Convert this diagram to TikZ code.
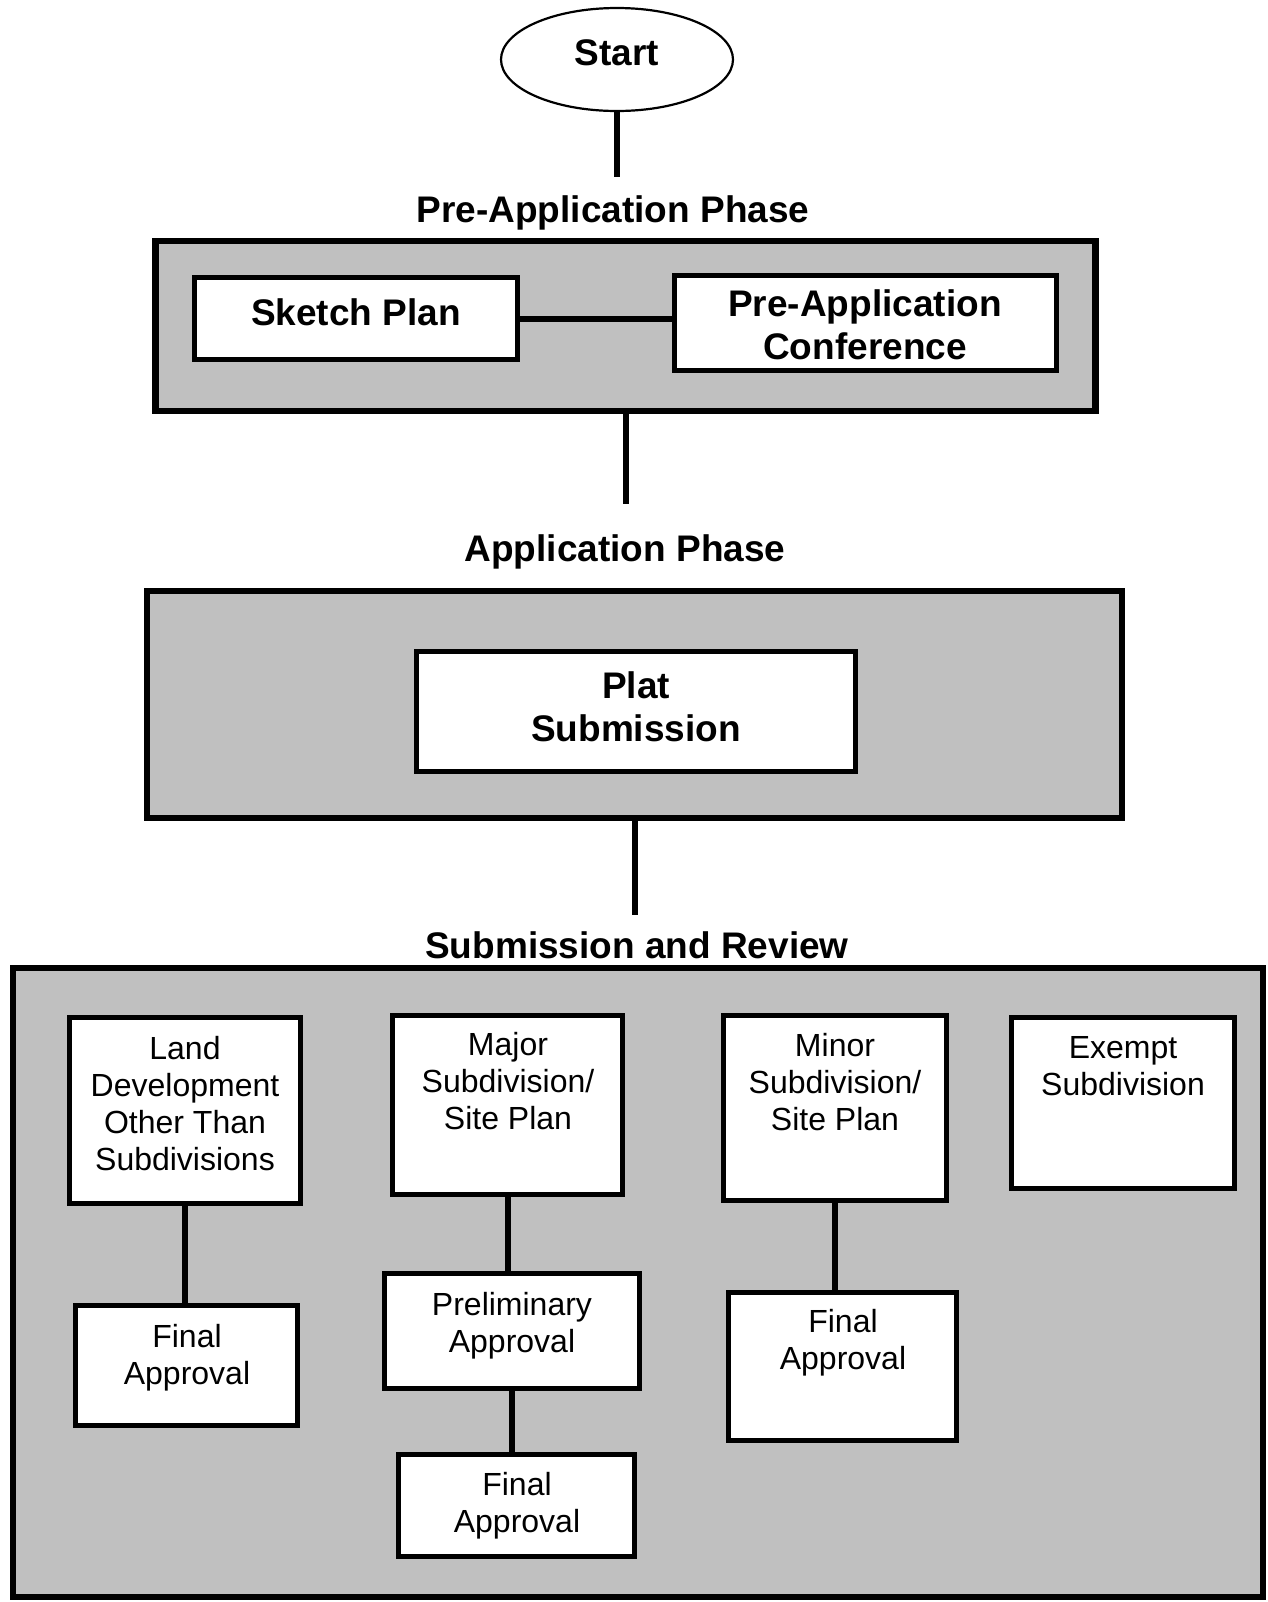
\documentclass[tikz,border=0pt]{standalone}
\usepackage{fontspec}
\setmainfont{Liberation Sans}
\usetikzlibrary{shapes.geometric}
\definecolor{panelgray}{HTML}{C0C0C0}
\tikzset{
  phasebox/.style={draw, line width=3.2pt, fill=panelgray, inner sep=0pt},
  stepbox/.style={draw, line width=2.8pt, fill=white, inner sep=0pt},
  startnode/.style={draw, ellipse, line width=1.1pt, inner sep=0pt},
  link/.style={line width=3pt},
  bigtext/.style={font=\fontsize{18.5}{21.5}\selectfont\bfseries, align=center, inner sep=0pt},
  smalltext/.style={font=\fontsize{16}{18.5}\selectfont, align=center, inner sep=0pt},
}

\begin{document}
\begin{tikzpicture}[x=0.5pt, y=-0.5pt]
  \useasboundingbox (0,0) rectangle (1268,1602);

  % start
  \node[startnode, minimum width=116pt, minimum height=51.5pt] (start) at (617,59.5) {};
  \node[bigtext] (startT) at (617,53) {Start};
  \coordinate (preTop) at (615,177);
  \draw[link] (start.south) -- (start.south |- preTop);

  % pre-application phase
  \node[bigtext] (preT) at (613,213) {Pre-Application Phase};
  \node[phasebox, minimum width=470pt, minimum height=85pt] (preBox) at (625.5,326) {};
  \node[stepbox, minimum width=161.5pt, minimum height=41pt] (sketch) at (356,318.5) {};
  \node[stepbox, minimum width=191pt, minimum height=47.5pt] (conf) at (865.5,323) {};
  \node[bigtext] (sketchT) at (356,312) {Sketch Plan};
  \node[bigtext] (confT) at (865,324.5) {Pre-Application\\Conference};
  \draw[link] (sketch.east) -- (sketch.east -| conf.west);
  \coordinate (appTop) at (625.5,504);
  \draw[link] (preBox.south) -- (preBox.south |- appTop);

  % application phase
  \node[bigtext] (appT) at (625,552) {Application Phase};
  \node[phasebox, minimum width=487.5pt, minimum height=113.5pt] (appBox) at (634.5,704.5) {};
  \node[stepbox, minimum width=219.5pt, minimum height=60pt] (plat) at (636,711.5) {};
  \node[bigtext] (platT) at (636,706.5) {Plat\\Submission};
  \coordinate (reviewTop) at (634.5,915);
  \draw[link] (appBox.south) -- (appBox.south |- reviewTop);

  % submission and review
  \node[bigtext] (reviewT) at (637,945) {Submission and Review};
  \node[phasebox, minimum width=625pt, minimum height=314.5pt] (review) at (638,1282.5) {};

  \node[stepbox, minimum width=115.5pt, minimum height=93pt] (land) at (185,1110.5) {};
  \node[stepbox, minimum width=111pt, minimum height=60pt] (finL) at (186.5,1365.5) {};
  \node[stepbox, minimum width=115pt, minimum height=89.5pt] (major) at (507.5,1105) {};
  \node[stepbox, minimum width=127.5pt, minimum height=57.5pt] (prelim) at (512,1331) {};
  \node[stepbox, minimum width=118pt, minimum height=51pt] (finM) at (516.5,1505.5) {};
  \node[stepbox, minimum width=111.5pt, minimum height=92.5pt] (minor) at (835,1108) {};
  \node[stepbox, minimum width=114pt, minimum height=74pt] (finR) at (842.5,1366.5) {};
  \node[stepbox, minimum width=111.5pt, minimum height=85.5pt] (exempt) at (1123,1103) {};

  \draw[link] (land.south) -- (land.south |- finL.north);
  \draw[link] (major.south) -- (major.south |- prelim.north);
  \draw[link] (prelim.south) -- (prelim.south |- finM.north);
  \draw[link] (minor.south) -- (minor.south |- finR.north);

  \node[smalltext] (landT) at (185,1104) {Land\\Development\\Other Than\\Subdivisions};
  \node[smalltext] (finLT) at (187,1358) {Final\\Approval};
  \node[smalltext] (majorT) at (508,1081) {Major\\Subdivision/\\Site Plan};
  \node[smalltext] (prelimT) at (512,1326) {Preliminary\\Approval};
  \node[smalltext] (finMT) at (517,1506) {Final\\Approval};
  \node[smalltext] (minorT) at (835,1082) {Minor\\Subdivision/\\Site Plan};
  \node[smalltext] (finRT) at (843,1343) {Final\\Approval};
  \node[smalltext] (exemptT) at (1123,1066) {Exempt\\Subdivision};
\end{tikzpicture}
\end{document}
